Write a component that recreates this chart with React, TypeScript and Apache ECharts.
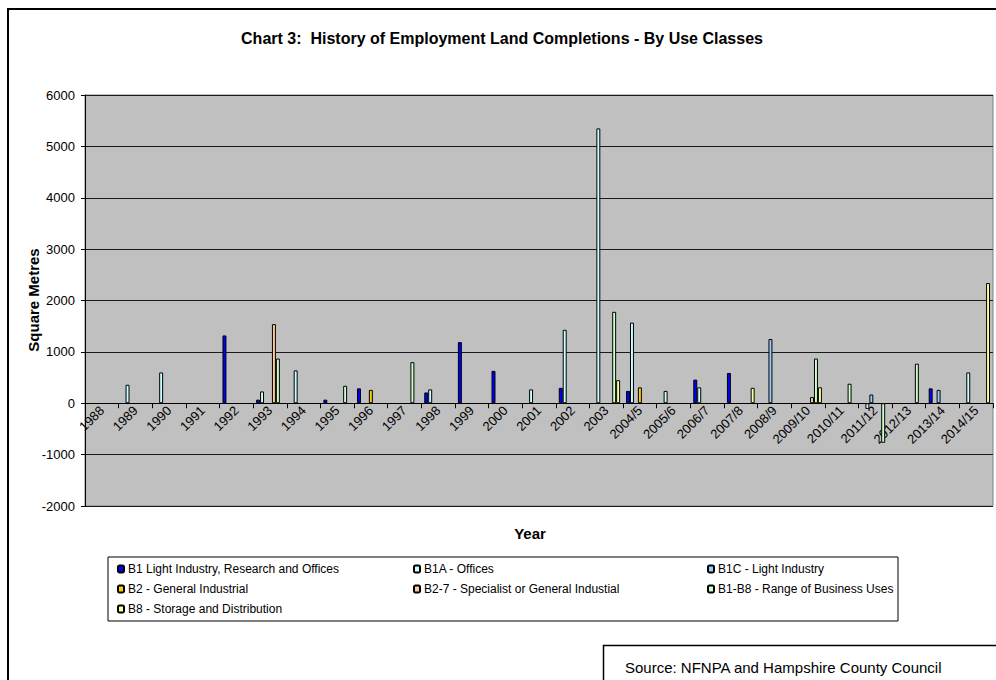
import React, { useEffect, useRef } from "react";
import * as echarts from "echarts";

const categories = [
  "1988", "1989", "1990", "1991", "1992", "1993", "1994", "1995", "1996", "1997",
  "1998", "1999", "2000", "2001", "2002", "2003", "2004/5", "2005/6", "2006/7",
  "2007/8", "2008/9", "2009/10", "2010/11", "2011/12", "2012/13", "2013/14", "2014/15",
];

const seriesNames = [
  "B1 Light Industry, Research and Offices",
  "B1A - Offices",
  "B1C - Light Industry",
  "B2 - General Industrial",
  "B2-7 - Specialist or General Industial",
  "B1-B8 - Range of Business Uses",
  "B8 - Storage and Distribution",
];

const seriesColors = ["#0000FF", "#CCFFFF", "#99CCFF", "#FFCC00", "#FFCC99", "#CCFFCC", "#FFFF99"];

const n = null;
const b1 = [n, n, n, n, 1320, 70, n, 70, 290, n, 210, 1190, 630, n, 300, n, 240, n, 460, 590, n, n, n, n, n, 290, n];
const b1a = [n, 360, 600, n, n, 230, 640, n, n, n, 270, n, n, 270, 1430, 5350, 1570, 240, 310, n, n, n, n, -110, n, n, 600];
const b1c = [n, n, n, n, n, n, n, n, n, n, n, n, n, n, n, n, n, n, n, n, 1250, n, n, 170, n, 260, n];
const b2 = [n, n, n, n, n, n, n, n, 260, n, n, n, n, n, n, n, 310, n, n, n, n, n, n, n, n, n, n];
const b27 = [n, n, n, n, n, 1540, n, n, n, n, n, n, n, n, n, n, n, n, n, n, n, 120, n, n, n, n, n];
const b1b8 = [n, n, n, n, n, 870, n, 340, n, 800, n, n, n, n, n, 1780, n, n, n, n, n, 870, 380, -770, 770, n, n];
const b8 = [n, n, n, n, n, n, n, n, n, n, n, n, n, n, n, 450, n, n, n, 300, n, 310, n, n, n, n, 2340];

const seriesData = [b1, b1a, b1c, b2, b27, b1b8, b8];

const yTicks = { min: -2000, max: 6000, interval: 1000 };

const FONT = "'Liberation Sans', Arial, sans-serif";

const GRID_TOP = 95;
const GRID_BOTTOM = 174;
const GRID_H = 680 - GRID_TOP - GRID_BOTTOM;

export default function App() {
  const ref = useRef<HTMLDivElement>(null);

  useEffect(() => {
    if (!ref.current) return;
    const chart = echarts.init(ref.current, null, { renderer: "svg" });

    const legendPos = [
      [117, 563], [413, 563], [707, 563],
      [117, 583], [413, 583], [707, 583],
      [117, 603],
    ];

    // move the category axis up so it sits on the value 0
    const zeroOffset = -(GRID_H * (0 - yTicks.min)) / (yTicks.max - yTicks.min);

    const option: any = {
      animation: false,
      backgroundColor: "#FFFFFF",
      textStyle: { fontFamily: FONT },
      grid: {
        left: 85,
        top: GRID_TOP,
        right: 3,
        bottom: GRID_BOTTOM,
        show: true,
        backgroundColor: "#C0C0C0",
        borderColor: "#808080",
        borderWidth: 1,
      },
      legend: seriesNames.map((name, i) => ({
        data: [name],
        left: legendPos[i][0],
        top: legendPos[i][1],
        itemWidth: 6,
        itemHeight: 7,
        itemGap: 4,
        padding: 0,
        selectedMode: false,
        textStyle: { fontFamily: FONT, fontSize: 12, color: "#000", padding: [0, 0, 0, -1] },
      })),
      xAxis: {
        type: "category",
        data: categories,
        offset: zeroOffset,
        axisLine: { onZero: false, lineStyle: { color: "#000", width: 1 } },
        axisTick: { show: true, interval: 0, alignWithLabel: false, length: 5, lineStyle: { color: "#000" } },
        axisLabel: {
          interval: 0,
          rotate: 45,
          fontSize: 13,
          color: "#000",
          fontFamily: FONT,
          margin: 5,
        },
        splitLine: { show: false },
      },
      yAxis: {
        type: "value",
        min: yTicks.min,
        max: yTicks.max,
        interval: yTicks.interval,
        axisLine: { show: true, lineStyle: { color: "#000", width: 1 } },
        axisTick: { show: true, length: 4, lineStyle: { color: "#000" } },
        axisLabel: {
          fontSize: 13,
          color: "#000",
          fontFamily: FONT,
          margin: 10,
          formatter: (v: number) => String(v),
        },
        splitLine: { show: true, lineStyle: { color: "#1a1a1a", width: 1 } },
      },
      series: seriesNames.map((name, i) => ({
        name,
        type: "bar",
        data: seriesData[i],
        barGap: "0%",
        barCategoryGap: "17.6%",
        itemStyle: { color: seriesColors[i], borderColor: "#000", borderWidth: 1 },
      })),
      graphic: [
        {
          type: "rect",
          shape: { x: 8, y: 9, width: 1000, height: 700 },
          style: { fill: "none", stroke: "#000", lineWidth: 2 },
          silent: true,
        },
        {
          type: "text",
          x: 502,
          y: 38,
          style: {
            text: "Chart 3:  History of Employment Land Completions - By Use Classes",
            fontFamily: FONT,
            fontSize: 16,
            fontWeight: "bold",
            fill: "#000",
            align: "center",
            verticalAlign: "middle",
          },
        },
        {
          type: "text",
          x: 33,
          y: 300,
          rotation: Math.PI / 2,
          style: {
            text: "Square Metres",
            fontFamily: FONT,
            fontSize: 15,
            fontWeight: "bold",
            fill: "#000",
            align: "center",
            verticalAlign: "middle",
          },
        },
        {
          type: "text",
          x: 530,
          y: 533,
          style: {
            text: "Year",
            fontFamily: FONT,
            fontSize: 15,
            fontWeight: "bold",
            fill: "#000",
            align: "center",
            verticalAlign: "middle",
          },
        },
        {
          type: "rect",
          z: -1,
          shape: { x: 108, y: 557, width: 790, height: 64 },
          style: { fill: "#FFFFFF", stroke: "#000", lineWidth: 1 },
          silent: true,
        },
        {
          type: "rect",
          shape: { x: 603.5, y: 645.5, width: 500, height: 100 },
          style: { fill: "#FFFFFF", stroke: "#000", lineWidth: 1.5 },
          silent: true,
        },
        {
          type: "text",
          x: 625,
          y: 667,
          style: {
            text: "Source: NFNPA and Hampshire County Council",
            fontFamily: FONT,
            fontSize: 15,
            fill: "#000",
            align: "left",
            verticalAlign: "middle",
          },
        },
      ],
    };

    chart.setOption(option);
    return () => chart.dispose();
  }, []);

  return (
    <div
      ref={ref}
      style={{ position: "absolute", left: 0, top: 0, width: 996, height: 680 }}
    />
  );
}
